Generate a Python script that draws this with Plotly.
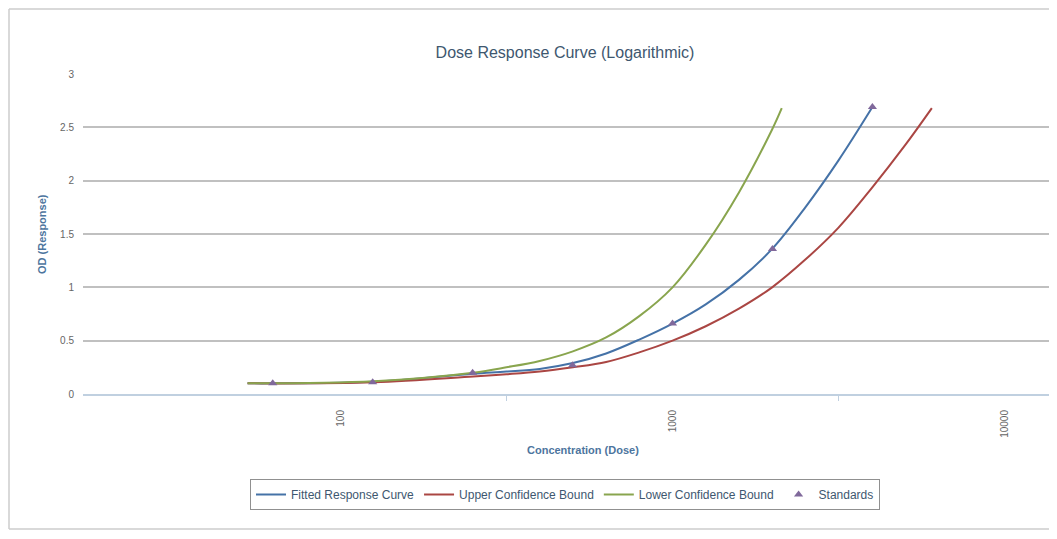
import plotly.graph_objects as go

# ---- data ----
fit_dose = [52.5, 63, 126, 251, 316, 398, 501, 631, 794, 1000, 1259, 1585, 1995, 2512, 3162, 4000]
fit_od = [0.10, 0.10, 0.115, 0.19, 0.21, 0.235, 0.29, 0.38, 0.51, 0.66, 0.84, 1.07, 1.36, 1.75, 2.19, 2.69]

upper_dose = [52.5, 126, 251, 316, 398, 501, 631, 794, 1000, 1259, 1585, 1995, 2512, 3162, 3981, 5012, 6040]
upper_od = [0.10, 0.11, 0.165, 0.185, 0.21, 0.25, 0.30, 0.39, 0.50, 0.635, 0.80, 1.00, 1.26, 1.56, 1.93, 2.33, 2.68]

lower_dose = [52.5, 126, 251, 316, 398, 501, 631, 794, 1000, 1259, 1585, 1995, 2133]
lower_od = [0.10, 0.12, 0.20, 0.25, 0.31, 0.40, 0.53, 0.73, 1.00, 1.40, 1.89, 2.48, 2.68]

std_dose = [62.5, 125, 250, 500, 1000, 2000, 4000]
std_od = [0.10, 0.11, 0.20, 0.27, 0.66, 1.36, 2.69]

y_ticks = [0, 0.5, 1, 1.5, 2, 2.5, 3]
y_tick_labels = ["0", "0.5", "1", "1.5", "2", "2.5", "3"]
x_ticks = [100, 1000, 10000]
x_tick_labels = ["100", "1000", "10000"]
x_minor_ticks = [316.23, 3162.3]

OFF = 8  # page body margin
W, H = 1057 - OFF, 539 - 2 * OFF
L, T = 83 - OFF, 74 - OFF
PB = 394 - OFF  # plot bottom in figure px
R, B = 0, H - PB
pw, ph = W - L - R, H - T - B

def px_x(p):
    return (p - OFF - L) / pw

def px_y(p):
    return (PB - (p - OFF)) / ph

fig = go.Figure()
fig.add_trace(go.Scatter(x=fit_dose, y=fit_od, mode="lines", name="Fitted Response Curve",
                         line=dict(color="#4572A7", width=2, shape="spline", smoothing=1)))
fig.add_trace(go.Scatter(x=upper_dose, y=upper_od, mode="lines", name="Upper Confidence Bound",
                         line=dict(color="#AA4643", width=2, shape="spline", smoothing=1)))
fig.add_trace(go.Scatter(x=lower_dose, y=lower_od, mode="lines", name="Lower Confidence Bound",
                         line=dict(color="#89A54E", width=2, shape="spline", smoothing=1)))
fig.add_trace(go.Scatter(x=std_dose, y=std_od, mode="markers", name="Standards",
                         marker=dict(symbol="triangle-up", size=8, color="#80699B")))

fig.update_layout(
    width=W, height=H, autosize=False,
    margin=dict(l=L, r=R, t=T, b=B),
    paper_bgcolor="white", plot_bgcolor="white",
    font=dict(family="Liberation Sans, Arial, sans-serif", color="#666666"),
    title=dict(text="Dose Response Curve (Logarithmic)", xref="container",
               x=(565 - OFF) / W, xanchor="center", yref="container",
               y=1 - (52 - OFF) / H, yanchor="middle",
               font=dict(size=16, color="#3E576F")),
    showlegend=True,
    legend=dict(orientation="h", xref="container", x=(565 - OFF) / W, xanchor="center",
                yref="container", y=1 - (479 - OFF) / H, yanchor="top",
                bgcolor="white", bordercolor="#909090", borderwidth=1,
                font=dict(size=12, color="#3E576F"), itemwidth=30),
)

fig.update_xaxes(type="log", range=[1.2244, 4.158],
                 tickvals=x_ticks, ticktext=x_tick_labels, tickangle=-90,
                 tickfont=dict(size=10, color="#666666"), ticks="", ticklabelstandoff=10,
                 showgrid=False, zeroline=False,
                 showline=True, linecolor="#C0D0E0", linewidth=2,
                 minor=dict(tickvals=x_minor_ticks, ticks="outside", ticklen=5,
                            tickcolor="#C0D0E0", tickwidth=1, showgrid=False))
fig.update_yaxes(range=[0, 3], tickvals=y_ticks, ticktext=y_tick_labels,
                 tickfont=dict(size=10, color="#666666"), ticks="", ticklabelstandoff=8,
                 showgrid=True, gridcolor="#C0C0C0", gridwidth=1.5,
                 zeroline=False, showline=False)

fig.add_annotation(text="<b>OD (Response)</b>", xref="paper", yref="paper",
                   x=px_x(34), y=0.5, textangle=-90, showarrow=False,
                   font=dict(size=11, color="#4D759E"))
fig.add_annotation(text="<b>Concentration (Dose)</b>", xref="paper", yref="paper",
                   x=px_x(583), y=px_y(458), showarrow=False,
                   font=dict(size=11, color="#4D759E"))

fig.add_shape(type="line", xref="paper", yref="paper",
              x0=px_x(9), x1=px_x(9), y0=px_y(529), y1=px_y(9),
              line=dict(color="#CCCCCC", width=1.5), layer="below")
fig.add_shape(type="line", xref="paper", yref="paper",
              x0=px_x(9), x1=px_x(1300), y0=px_y(9), y1=px_y(9),
              line=dict(color="#CCCCCC", width=1.5), layer="below")
fig.add_shape(type="line", xref="paper", yref="paper",
              x0=px_x(9), x1=px_x(1300), y0=px_y(529), y1=px_y(529),
              line=dict(color="#CCCCCC", width=1.5), layer="below")

fig.write_html("out.html")
